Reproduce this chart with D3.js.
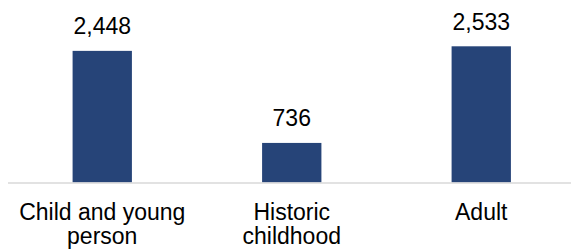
<!DOCTYPE html>
<html lang="en">
<head>
<meta charset="utf-8">
<title>Bar chart</title>
<style>
body{
  margin: 0;
  background: #fff;
}
.lbl{
  font: 23px "Liberation Sans", Arial, sans-serif;
  fill: #000;
  text-anchor: middle;
}
</style>
</head>
<body>
<div id="chart"></div>
<script src="https://d3js.org/d3.v7.min.js"></script>
<script>
const categories = [["Child and young", "person"], ["Historic", "childhood"], ["Adult"]];
const values = [2448, 736, 2533];

const width = 571;
const height = 250;
const baseY = 182.5;

const svg = d3.select('#chart')
  .append('svg')
  .attr('width', width)
  .attr('height', height);

const keys = categories.map(c => c.join(' '));

const xS = d3.scaleBand()
  .domain(keys)
  .range([7.5, 576])
  .paddingInner(0.687)
  .paddingOuter(0.3435);

const yS = d3.scaleLinear()
  .domain([0, 2533])
  .range([baseY, 46.3]);

// bars
svg.selectAll('rect')
  .data(values)
  .join('rect')
  .attr('x', (d, i) => xS(keys[i]))
  .attr('y', d => yS(d))
  .attr('width', xS.bandwidth())
  .attr('height', d => baseY - yS(d))
  .attr('fill', '#264478');

// baseline
svg.append('line')
  .attr('x1', 8)
  .attr('x2', width)
  .attr('y1', baseY + 0.5)
  .attr('y2', baseY + 0.5)
  .attr('stroke', '#d9d9d9')
  .attr('stroke-width', 1.3);

// value labels
svg.selectAll('text.val')
  .data(values)
  .join('text')
  .attr('class', 'lbl val')
  .attr('x', (d, i) => xS(keys[i]) + xS.bandwidth() / 2)
  .attr('y', d => yS(d) - 16.5)
  .text(d => d3.format(',')(d));

// category labels
const cat = svg.selectAll('text.cat')
  .data(categories)
  .join('text')
  .attr('class', 'lbl cat')
  .attr('y', 220);

cat.selectAll('tspan')
  .data((d, i) => d.map(t => ({ t: t, k: keys[i] })))
  .join('tspan')
  .attr('x', d => xS(d.k) + xS.bandwidth() / 2)
  .attr('dy', (d, j) => j === 0 ? 0 : 24)
  .text(d => d.t);
</script>
</body>
</html>
